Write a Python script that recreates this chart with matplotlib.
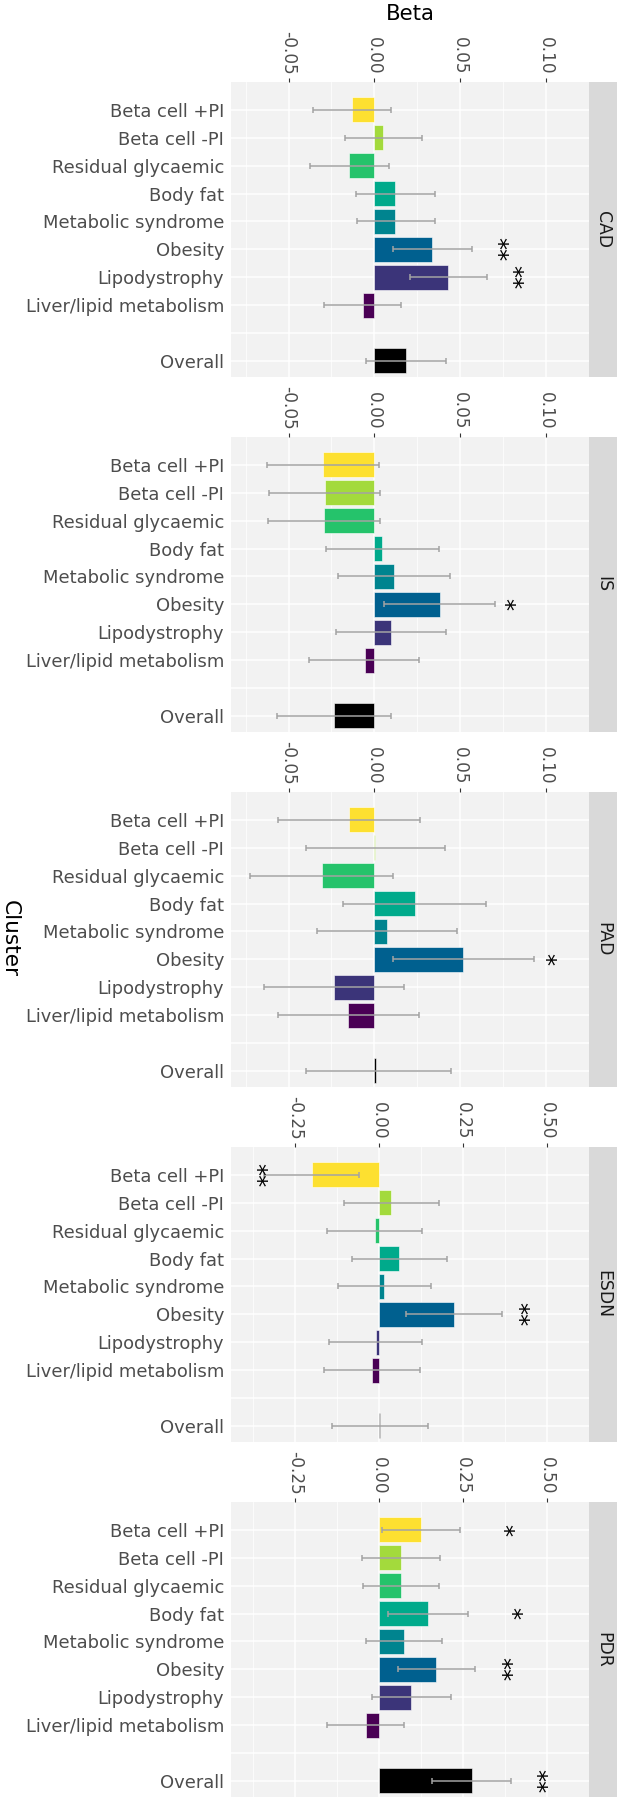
import matplotlib
matplotlib.use("Agg")
import matplotlib.pyplot as plt
import numpy as np

clusters = ["Beta cell +PI", "Beta cell -PI", "Residual glycaemic", "Body fat",
            "Metabolic syndrome", "Obesity", "Lipodystrophy",
            "Liver/lipid metabolism", "Overall"]
outcomes = ["CAD", "IS", "PAD", "ESDN", "PDR"]

# beta, lower CI, upper CI per outcome (same order as clusters)
beta_cad = [-0.013, 0.005, -0.0145, 0.012, 0.0123, 0.0336, 0.043, -0.0064, 0.0185]
lo_cad = [-0.0357, -0.0172, -0.0375, -0.0106, -0.0100, 0.0111, 0.0206, -0.0294, -0.0047]
hi_cad = [0.0096, 0.0279, 0.0087, 0.0353, 0.0353, 0.0566, 0.0655, 0.0157, 0.0417]

beta_is = [-0.030, -0.029, -0.0296, 0.0045, 0.0115, 0.0381, 0.0094, -0.0057, -0.0234]
lo_is = [-0.0626, -0.0611, -0.0621, -0.0281, -0.0209, 0.0055, -0.0226, -0.0379, -0.0568]
hi_is = [0.0026, 0.0032, 0.0032, 0.0375, 0.0441, 0.0702, 0.0417, 0.0262, 0.0096]

beta_pad = [-0.0149, 0.0003, -0.0306, 0.0234, 0.0072, 0.0519, -0.0236, -0.0151, 0.0010]
lo_pad = [-0.056, -0.040, -0.0724, -0.0183, -0.0336, 0.0109, -0.0645, -0.056, -0.040]
hi_pad = [0.0266, 0.0413, 0.0109, 0.0653, 0.0481, 0.0930, 0.0172, 0.0258, 0.0445]

beta_esdn = [-0.202, 0.035, -0.014, 0.059, 0.014, 0.222, -0.011, -0.021, 0.002]
lo_esdn = [-0.344, -0.106, -0.156, -0.082, -0.122, 0.080, -0.151, -0.164, -0.140]
hi_esdn = [-0.060, 0.177, 0.128, 0.201, 0.154, 0.366, 0.128, 0.120, 0.145]

beta_pdr = [0.123, 0.064, 0.064, 0.145, 0.073, 0.170, 0.094, -0.039, 0.275]
lo_pdr = [0.008, -0.051, -0.048, 0.027, -0.040, 0.055, -0.021, -0.155, 0.158]
hi_pdr = [0.242, 0.182, 0.179, 0.265, 0.188, 0.286, 0.213, 0.073, 0.393]

# significance stars: (cluster index, label, x position in beta units)
stars_cad = [(5, "**", 0.071), (6, "**", 0.080)]
stars_is = [(5, "*", 0.0749)]
stars_pad = [(5, "*", 0.0988)]
stars_esdn = [(0, "**", -0.371), (5, "**", 0.410)]
stars_pdr = [(0, "*", 0.366), (3, "*", 0.389), (5, "**", 0.360), (8, "**", 0.464)]

ticks_small = [-0.05, 0.00, 0.05, 0.10]
ticks_large = [-0.25, 0.00, 0.25, 0.50]

colors = ["#FDE030", "#A3DA3C", "#25C36B", "#00AA8B", "#00848F",
          "#00608F", "#3B3479", "#4A0055", "#000000"]

panels = [
    (beta_cad, lo_cad, hi_cad, stars_cad, ticks_small, (-0.0835, 0.1088)),
    (beta_is, lo_is, hi_is, stars_is, ticks_small, (-0.0835, 0.1088)),
    (beta_pad, lo_pad, hi_pad, stars_pad, ticks_small, (-0.0835, 0.1088)),
    (beta_esdn, lo_esdn, hi_esdn, stars_esdn, ticks_large, (-0.442, 0.541)),
    (beta_pdr, lo_pdr, hi_pdr, stars_pdr, ticks_large, (-0.442, 0.541)),
]

W, H = 621, 1800
fig = plt.figure(figsize=(W / 100, H / 100), dpi=100)

ypos = np.array([0, 1, 2, 3, 4, 5, 6, 7, 9])
ylabels = clusters[:8] + [""] + clusters[8:]

for i, (name, (b, lo, hi, stars, ticks, xlim)) in enumerate(zip(outcomes, panels)):
    top = 82 + 355 * i
    bottom = 1 - (top + 295) / H
    ax = fig.add_axes([231 / W, bottom, 358 / W, 295 / H])
    ax.set_facecolor("#F2F2F2")
    b, lo, hi = np.array(b), np.array(lo), np.array(hi)

    ax.barh(ypos, b, height=0.9, color=colors, edgecolor="white",
            linewidth=0.4, zorder=2)
    ax.errorbar((lo + hi) / 2, ypos, xerr=(hi - lo) / 2, fmt="none",
                ecolor="#A3A3A3", elinewidth=1.1, capsize=2.2, capthick=1.1,
                zorder=3)
    for idx, lab, xs in stars:
        ax.text(xs, ypos[idx], lab, rotation=270, ha="center", va="center",
                fontsize=17.5, color="black", zorder=4)

    step = ticks[1] - ticks[0]
    ax.set_xlim(*xlim)
    ax.set_xticks(ticks)
    ax.set_xticks([t + step / 2 for t in [ticks[0] - step] + ticks], minor=True)
    ax.set_xticklabels([f"{t:.2f}" for t in ticks])
    ax.set_yticks(range(10))
    ax.set_yticklabels(ylabels)
    ax.set_ylim(9.58, -1.0)

    ax.grid(which="major", color="white", linewidth=1.1, zorder=0)
    ax.grid(which="minor", axis="x", color="white", linewidth=0.55, zorder=0)
    ax.set_axisbelow(True)
    for s in ax.spines.values():
        s.set_visible(False)

    ax.xaxis.tick_top()
    ax.tick_params(axis="x", which="major", length=3, width=0.8,
                   color="#333333", labelsize=12.2, labelcolor="#4D4D4D",
                   labelrotation=270, pad=2.5)
    ax.tick_params(axis="x", which="minor", length=0)
    ax.tick_params(axis="y", length=0, labelsize=12.9, labelcolor="#4D4D4D",
                   pad=5)

    sax = fig.add_axes([589 / W, bottom, 28 / W, 295 / H])
    sax.set_facecolor("#D9D9D9")
    sax.set_xticks([])
    sax.set_yticks([])
    for s in sax.spines.values():
        s.set_visible(False)
    sax.text(0.5, 0.5, name, rotation=270, ha="center", va="center",
             fontsize=12.4, color="#1A1A1A", transform=sax.transAxes)

fig.text(410 / W, 1 - 14 / H, "Beta", ha="center", va="center", fontsize=15.3)
fig.text(10 / W, 1 - 938 / H, "Cluster", rotation=270, ha="center",
         va="center", fontsize=15.6)

fig.savefig("out.png", dpi=100)
